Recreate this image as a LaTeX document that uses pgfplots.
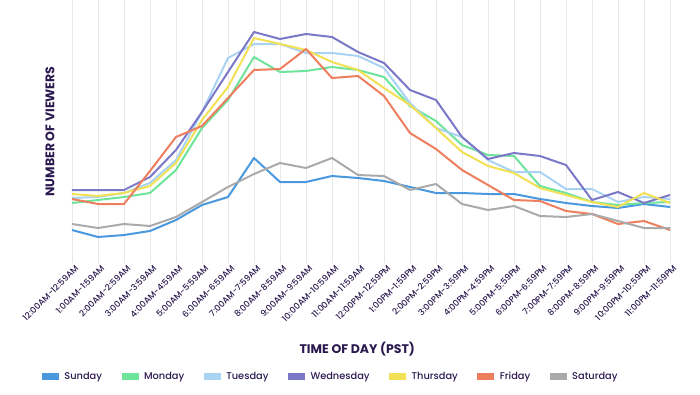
\documentclass[border=0pt]{standalone}
\usepackage{pgfplots}
\pgfplotsset{compat=1.18}
\usepackage{fontspec}
\setmainfont{Poppins}[UprightFont=* Medium, BoldFont=* Bold]
\definecolor{txt}{HTML}{2B1A4F}
\definecolor{csun}{HTML}{4A98DE}
\definecolor{cmon}{HTML}{6EE39A}
\definecolor{ctue}{HTML}{A9D3F3}
\definecolor{cwed}{HTML}{7B78C8}
\definecolor{cthu}{HTML}{F2E055}
\definecolor{cfri}{HTML}{EE7F5E}
\definecolor{csat}{HTML}{AAAAAA}
\begin{document}
\begin{tikzpicture}
\useasboundingbox (-72pt,-131pt) rectangle (628pt,263pt);
\begin{axis}[
  at={(0,0)}, anchor=south west, scale only axis,
  width=598pt, height=263pt,
  xmin=0, xmax=23, ymin=0, ymax=263,
  axis line style={draw=none},
  ytick=\empty,
  xtick={0,...,23},
  xticklabels={12:00AM-12:59AM,1:00AM-1:59AM,2:00AM-2:59AM,3:00AM-3:59AM,4:00AM-4:59AM,5:00AM-5:59AM,6:00AM-6:59AM,7:00AM-7:59AM,8:00AM-8:59AM,9:00AM-9:59AM,10:00AM-10:59AM,11:00AM-11:59AM,12:00PM-12:59PM,1:00PM-1:59PM,2:00PM-2:59PM,3:00PM-3:59PM,4:00PM-4:59PM,5:00PM-5:59PM,6:00PM-6:59PM,7:00PM-7:59PM,8:00PM-8:59PM,9:00PM-9:59PM,10:00PM-10:59PM,11:00PM-11:59PM},
  xticklabel style={rotate=45, anchor=east, font=\fontsize{8.6}{9}\selectfont, text=txt, inner sep=1pt, yshift=-6pt, xshift=2pt},
  major tick length=0pt,
  xmajorgrids, grid style={black!9, line width=0.7pt},
  xlabel={\bfseries TIME OF DAY (PST)},
  xlabel style={at={(axis description cs:0.477,-0.327)}, anchor=center, font=\fontsize{12.5}{14}\selectfont, text=txt},
  ylabel={\bfseries NUMBER OF VIEWERS},
  ylabel style={at={(axis description cs:-0.037,0.5)}, anchor=center, font=\fontsize{12.5}{14}\selectfont, text=txt},
  legend style={at={(axis description cs:0.4298,-0.433)}, anchor=center, draw=none, fill=none, legend columns=-1,
    font=\fontsize{9.8}{11}\selectfont, text=txt,
    /tikz/every even column/.append style={column sep=14pt}},
  legend image code/.code={\draw[#1, line width=7pt] (0pt,0pt) -- (17pt,0pt);},
  every axis plot/.append style={line width=2pt, line join=round},
]
\addplot[csun] coordinates {(0,33)(1,26)(2,28)(3,32)(4,43)(5,58)(6,66)(7,105)(8,81)(9,81)(10,87)(11,85)(12,82)(13,76)(14,70)(15,70)(16,69)(17,69)(18,64)(19,60)(20,57)(21,55)(22,59)(23,56)};
\addlegendentry{Sunday}
\addplot[cmon] coordinates {(0,60)(1,63)(2,66)(3,70)(4,93)(5,135)(6,163)(7,206)(8,191)(9,192)(10,196)(11,193)(12,186)(13,157)(14,142)(15,118)(16,108)(17,107)(18,77)(19,70)(20,61)(21,58)(22,60)(23,61)};
\addlegendentry{Monday}
\addplot[ctue] coordinates {(0,65)(1,66)(2,70)(3,80)(4,103)(5,151)(6,205)(7,219)(8,219)(9,210)(10,210)(11,207)(12,195)(13,160)(14,135)(15,126)(16,103)(17,91)(18,91)(19,74)(20,74)(21,61)(22,66)(23,64)};
\addlegendentry{Tuesday}
\addplot[cwed] coordinates {(0,73)(1,73)(2,73)(3,86)(4,113)(5,151)(6,191)(7,231)(8,224)(9,229)(10,226)(11,211)(12,200)(13,173)(14,163)(15,126)(16,104)(17,110)(18,107)(19,98)(20,63)(21,71)(22,60)(23,68)};
\addlegendentry{Wednesday}
\addplot[cthu] coordinates {(0,69)(1,67)(2,70)(3,77)(4,100)(5,143)(6,176)(7,225)(8,219)(9,213)(10,201)(11,193)(12,175)(13,158)(14,135)(15,111)(16,97)(17,90)(18,75)(19,68)(20,61)(21,56)(22,70)(23,60)};
\addlegendentry{Thursday}
\addplot[cfri] coordinates {(0,64)(1,59)(2,59)(3,92)(4,126)(5,137)(6,165)(7,193)(8,194)(9,214)(10,185)(11,187)(12,167)(13,130)(14,114)(15,93)(16,78)(17,63)(18,62)(19,52)(20,49)(21,39)(22,42)(23,33)};
\addlegendentry{Friday}
\addplot[csat] coordinates {(0,39)(1,35)(2,39)(3,37)(4,46)(5,61)(6,76)(7,89)(8,100)(9,95)(10,105)(11,88)(12,87)(13,73)(14,79)(15,59)(16,53)(17,57)(18,47)(19,46)(20,49)(21,42)(22,35)(23,35)};
\addlegendentry{Saturday}
\end{axis}
\end{tikzpicture}
\end{document}
